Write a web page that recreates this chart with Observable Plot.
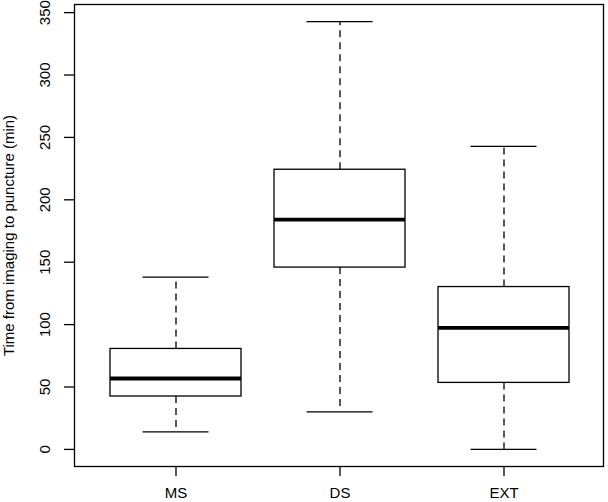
<!DOCTYPE html>
<html>
<head>
<meta charset="utf-8">
<script src="https://cdn.jsdelivr.net/npm/d3@7"></script>
<script src="https://cdn.jsdelivr.net/npm/@observablehq/plot@0.6"></script>
<style>
  html, body { margin: 0; padding: 0; background: white; }
</style>
</head>
<body>
<div id="chart"></div>
<script>
// Categories and five-number summaries (minutes)
const categories = ["MS", "DS", "EXT"];
const whiskerLow  = [14.1, 30.1, 0];
const quartile1   = [42.4, 145.7, 53.3];
const medians     = [56.8, 184.1, 97.3];
const quartile3   = [80.5, 224.1, 130.1];
const whiskerHigh = [138.1, 342.8, 242.8];
const yTicks = [0, 50, 100, 150, 200, 250, 300, 350];
const yTitle = "Time from imaging to puncture (min)";

const data = categories.map((c, i) => ({
  cat: c, min: whiskerLow[i], q1: quartile1[i], median: medians[i], q3: quartile3[i], max: whiskerHigh[i]
}));

const font = "'Liberation Sans', Arial, Helvetica, sans-serif";
const lw = 1.3;

const chart = Plot.plot({
  width: 608,
  height: 502,
  marginLeft: 74,
  marginRight: 5,
  marginTop: 4,
  marginBottom: 36,
  style: { fontFamily: font, fontSize: "15px", background: "white", color: "black" },
  x: { type: "band", domain: categories, paddingInner: 0.201, paddingOuter: 0.213, align: 0.52, label: null },
  y: { domain: [-13.7, 356.5], label: null },
  marks: [
    // whiskers
    Plot.ruleX(data, { x: "cat", y1: "q3", y2: "max", stroke: "black", strokeWidth: lw, strokeDasharray: "7,5" }),
    Plot.ruleX(data, { x: "cat", y1: "q1", y2: "min", stroke: "black", strokeWidth: lw, strokeDasharray: "7,5" }),
    // whisker caps
    Plot.tickY(data, { x: "cat", y: "max", stroke: "black", strokeWidth: lw, inset: 32.5 }),
    Plot.tickY(data, { x: "cat", y: "min", stroke: "black", strokeWidth: lw, inset: 32.5 }),
    // boxes
    Plot.barY(data, { x: "cat", y1: "q1", y2: "q3", fill: "white", stroke: "black", strokeWidth: lw }),
    // medians
    Plot.tickY(data, { x: "cat", y: "median", stroke: "black", strokeWidth: 3.8 }),
    // frame
    Plot.frame({ stroke: "black", strokeWidth: lw }),
    // axes
    Plot.axisX({ tickSize: 10, tickPadding: 11, fontSize: 15, strokeWidth: lw, label: null }),
    Plot.axisY({ ticks: yTicks, tickSize: 10, tickFormat: () => "", strokeWidth: lw, label: null }),
    Plot.text(yTicks, { y: d => d, text: d => String(d), frameAnchor: "left", dx: -29, rotate: -90,
      textAnchor: "middle", lineAnchor: "middle", fontSize: 15, fill: "black" }),
    Plot.text([yTitle], { text: d => d, frameAnchor: "left", dx: -65.5, rotate: -90,
      textAnchor: "middle", lineAnchor: "middle", fontSize: 15, fill: "black" })
  ]
});

document.getElementById("chart").appendChild(chart);
</script>
</body>
</html>
